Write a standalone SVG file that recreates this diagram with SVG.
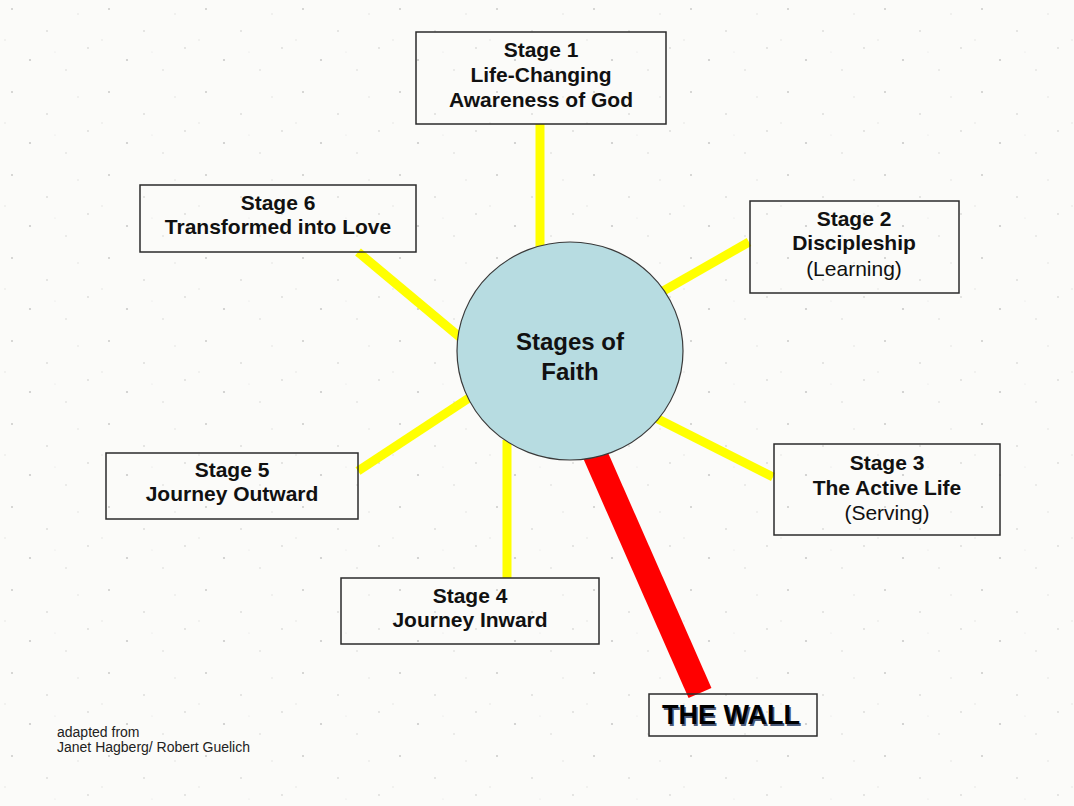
<svg xmlns="http://www.w3.org/2000/svg" width="1074" height="806" viewBox="0 0 1074 806">
  <style>
    .box { fill: none; stroke: #2b2b2b; stroke-width: 1.5; }
    .t { font-family: "Liberation Sans", Arial, sans-serif; font-size: 21px; fill: #111; text-anchor: middle; }
    .b { font-weight: bold; }
    .ray { stroke: #ffff00; stroke-width: 9; stroke-linecap: butt; fill: none; }
    .wall { stroke: #ff0000; stroke-width: 25; stroke-linecap: butt; fill: none; }
    .small { font-family: "Liberation Sans", Arial, sans-serif; font-size: 14px; fill: #222; }
  </style>
  <defs>
    <pattern id="speckle" x="0" y="0" width="97" height="83" patternUnits="userSpaceOnUse">
      <circle cx="12" cy="9" r="1" fill="#9a9a9a" opacity="0.5"/>
      <circle cx="47" cy="31" r="0.8" fill="#8a8a8a" opacity="0.45"/>
      <circle cx="78" cy="14" r="0.7" fill="#aaaaaa" opacity="0.4"/>
      <circle cx="30" cy="60" r="1.1" fill="#909090" opacity="0.45"/>
      <circle cx="66" cy="70" r="0.8" fill="#a0a0a0" opacity="0.4"/>
      <circle cx="88" cy="48" r="0.9" fill="#999999" opacity="0.35"/>
      <circle cx="5" cy="40" r="0.7" fill="#b0b0b0" opacity="0.4"/>
      <circle cx="55" cy="52" r="0.6" fill="#b5b5b5" opacity="0.35"/>
    </pattern>
  </defs>

  <rect x="0" y="0" width="1074" height="806" fill="#fbfbf9"/>
  <rect x="0" y="0" width="1074" height="806" fill="url(#speckle)"/>

  <g id="connectors">
    <line class="ray" x1="540" y1="124" x2="540" y2="250"/>
    <line class="ray" x1="658" y1="294" x2="749" y2="242"/>
    <line class="ray" x1="650" y1="415" x2="773" y2="477"/>
    <line class="ray" x1="507" y1="440" x2="507" y2="578"/>
    <line class="ray" x1="358" y1="471" x2="472" y2="396"/>
    <line class="ray" x1="358" y1="252" x2="462" y2="339"/>
    <line class="wall" x1="580" y1="420" x2="700" y2="693"/>
  </g>

  <g id="center">
    <ellipse cx="570" cy="351" rx="113" ry="109" fill="#b7dce1" stroke="#3a3a3a" stroke-width="1.2"/>
    <text class="t b" x="570" y="350" style="font-size:24px">Stages of</text>
    <text class="t b" x="570" y="380" style="font-size:24px">Faith</text>
  </g>

  <g id="stage1">
    <rect class="box" x="416" y="32" width="250" height="92"/>
    <text class="t b" x="541" y="57">Stage 1</text>
    <text class="t b" x="541" y="82">Life-Changing</text>
    <text class="t b" x="541" y="107">Awareness of God</text>
  </g>

  <g id="stage2">
    <rect class="box" x="750" y="201" width="209" height="92"/>
    <text class="t b" x="854" y="226">Stage 2</text>
    <text class="t b" x="854" y="250">Discipleship</text>
    <text class="t" x="854" y="276">(Learning)</text>
  </g>

  <g id="stage3">
    <rect class="box" x="774" y="444" width="226" height="91"/>
    <text class="t b" x="887" y="470">Stage 3</text>
    <text class="t b" x="887" y="495">The Active Life</text>
    <text class="t" x="887" y="520">(Serving)</text>
  </g>

  <g id="stage4">
    <rect class="box" x="341" y="578" width="258" height="66"/>
    <text class="t b" x="470" y="603">Stage 4</text>
    <text class="t b" x="470" y="627">Journey Inward</text>
  </g>

  <g id="stage5">
    <rect class="box" x="106" y="453" width="252" height="66"/>
    <text class="t b" x="232" y="477">Stage 5</text>
    <text class="t b" x="232" y="501">Journey Outward</text>
  </g>

  <g id="stage6">
    <rect class="box" x="140" y="185" width="276" height="67"/>
    <text class="t b" x="278" y="210">Stage 6</text>
    <text class="t b" x="278" y="234">Transformed into Love</text>
  </g>

  <g id="wall">
    <rect class="box" x="649" y="694" width="168" height="42"/>
    <text class="t b" x="732.5" y="725.5" style="font-size:27px;fill:#4a5a7a">THE WALL</text>
    <text class="t b" x="731" y="724" style="font-size:27px;fill:#000">THE WALL</text>
  </g>

  <g id="credit">
    <text class="small" x="57" y="737">adapted from</text>
    <text class="small" x="57" y="752">Janet Hagberg/ Robert Guelich</text>
  </g>
</svg>
